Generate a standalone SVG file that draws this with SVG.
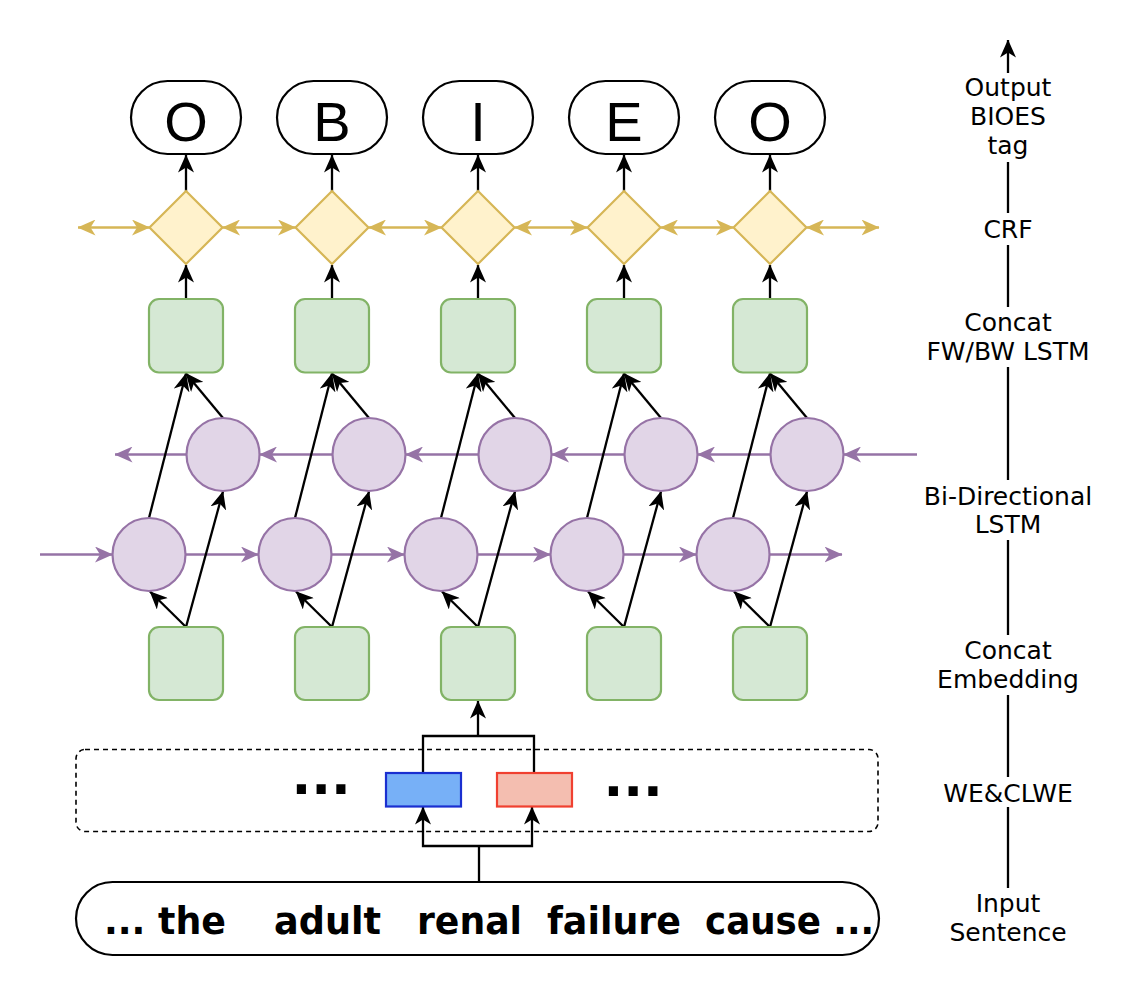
<svg xmlns="http://www.w3.org/2000/svg" width="1132" height="1004" viewBox="0 0 1132 1004">
<defs>
<style>
.blk{fill:none;stroke:#000;stroke-width:2.3}
.pur{fill:none;stroke:#9673a6;stroke-width:2.3}
.yel{fill:none;stroke:#d6b656;stroke-width:2.3}
.pill{fill:#fff;stroke:#000;stroke-width:2.2}
.grn{fill:#d5e8d4;stroke:#82b366;stroke-width:2.2}
.circ{fill:#e1d5e7;stroke:#9673a6;stroke-width:2.2}
.dia{fill:#fff2cc;stroke:#d6b656;stroke-width:2.2}
.tag{font-family:"Liberation Sans",Arial,sans-serif;font-size:56px;text-anchor:middle;fill:#000}
.lbl{font-family:"DejaVu Sans",Verdana,sans-serif;font-size:25px;text-anchor:middle;fill:#000}
.sent{font-family:"DejaVu Sans",Verdana,sans-serif;font-size:37px;font-weight:bold;fill:#000}
.dots{font-family:"DejaVu Sans",Verdana,sans-serif;font-size:52px;font-weight:bold;fill:#000}
</style>
<marker id="ab" viewBox="0 0 18 16" refX="17.5" refY="8" markerWidth="18" markerHeight="16" markerUnits="userSpaceOnUse" orient="auto-start-reverse"><path d="M0,0 L18,8 L0,16 L5,8 Z" fill="#000"/></marker>
<marker id="ap" viewBox="0 0 18 16" refX="17.5" refY="8" markerWidth="18" markerHeight="16" markerUnits="userSpaceOnUse" orient="auto-start-reverse"><path d="M0,0 L18,8 L0,16 L5,8 Z" fill="#9673a6"/></marker>
<marker id="ay" viewBox="0 0 18 16" refX="17.5" refY="8" markerWidth="18" markerHeight="16" markerUnits="userSpaceOnUse" orient="auto-start-reverse"><path d="M0,0 L18,8 L0,16 L5,8 Z" fill="#d6b656"/></marker>
</defs>
<rect width="1132" height="1004" fill="#fff"/>

<g id="connectors">
<!-- CRF chain -->
<path class="yel" d="M78,227.5 H149.5" marker-start="url(#ay)" marker-end="url(#ay)"/>
<path class="yel" d="M222.5,227.5 H295.5" marker-start="url(#ay)" marker-end="url(#ay)"/>
<path class="yel" d="M368.5,227.5 H441.5" marker-start="url(#ay)" marker-end="url(#ay)"/>
<path class="yel" d="M514.5,227.5 H587.5" marker-start="url(#ay)" marker-end="url(#ay)"/>
<path class="yel" d="M660.5,227.5 H733.5" marker-start="url(#ay)" marker-end="url(#ay)"/>
<path class="yel" d="M806.5,227.5 H879" marker-start="url(#ay)" marker-end="url(#ay)"/>
<!-- forward LSTM -->
<path class="pur" d="M40,554.5 H112.5" marker-end="url(#ap)"/>
<path class="pur" d="M185.5,554.5 H258.5" marker-end="url(#ap)"/>
<path class="pur" d="M331.5,554.5 H404.5" marker-end="url(#ap)"/>
<path class="pur" d="M477.5,554.5 H550.5" marker-end="url(#ap)"/>
<path class="pur" d="M623.5,554.5 H696.5" marker-end="url(#ap)"/>
<path class="pur" d="M769.5,554.5 H842" marker-end="url(#ap)"/>
<!-- backward LSTM -->
<path class="pur" d="M917,454.5 H843.5" marker-end="url(#ap)"/>
<path class="pur" d="M770.5,454.5 H697.5" marker-end="url(#ap)"/>
<path class="pur" d="M624.5,454.5 H551.5" marker-end="url(#ap)"/>
<path class="pur" d="M478.5,454.5 H405.5" marker-end="url(#ap)"/>
<path class="pur" d="M332.5,454.5 H259.5" marker-end="url(#ap)"/>
<path class="pur" d="M186.5,454.5 H115" marker-end="url(#ap)"/>
<!-- column 1 -->
<path class="blk" d="M186,191 V155" marker-end="url(#ab)"/>
<path class="blk" d="M186,299 V265" marker-end="url(#ab)"/>
<path class="blk" d="M186,627 L150,591.5" marker-end="url(#ab)"/>
<path class="blk" d="M186,627 L223,491.5" marker-end="url(#ab)"/>
<path class="blk" d="M149,518 L186,373.5" marker-end="url(#ab)"/>
<path class="blk" d="M223,418 L186,373.5" marker-end="url(#ab)"/>
<!-- column 2 -->
<path class="blk" d="M332,191 V155" marker-end="url(#ab)"/>
<path class="blk" d="M332,299 V265" marker-end="url(#ab)"/>
<path class="blk" d="M332,627 L296,591.5" marker-end="url(#ab)"/>
<path class="blk" d="M332,627 L369,491.5" marker-end="url(#ab)"/>
<path class="blk" d="M295,518 L332,373.5" marker-end="url(#ab)"/>
<path class="blk" d="M369,418 L332,373.5" marker-end="url(#ab)"/>
<!-- column 3 -->
<path class="blk" d="M478,191 V155" marker-end="url(#ab)"/>
<path class="blk" d="M478,299 V265" marker-end="url(#ab)"/>
<path class="blk" d="M478,627 L442,591.5" marker-end="url(#ab)"/>
<path class="blk" d="M478,627 L515,491.5" marker-end="url(#ab)"/>
<path class="blk" d="M441,518 L478,373.5" marker-end="url(#ab)"/>
<path class="blk" d="M515,418 L478,373.5" marker-end="url(#ab)"/>
<!-- column 4 -->
<path class="blk" d="M624,191 V155" marker-end="url(#ab)"/>
<path class="blk" d="M624,299 V265" marker-end="url(#ab)"/>
<path class="blk" d="M624,627 L588,591.5" marker-end="url(#ab)"/>
<path class="blk" d="M624,627 L661,491.5" marker-end="url(#ab)"/>
<path class="blk" d="M587,518 L624,373.5" marker-end="url(#ab)"/>
<path class="blk" d="M661,418 L624,373.5" marker-end="url(#ab)"/>
<!-- column 5 -->
<path class="blk" d="M770,191 V155" marker-end="url(#ab)"/>
<path class="blk" d="M770,299 V265" marker-end="url(#ab)"/>
<path class="blk" d="M770,627 L734,591.5" marker-end="url(#ab)"/>
<path class="blk" d="M770,627 L807,491.5" marker-end="url(#ab)"/>
<path class="blk" d="M733,518 L770,373.5" marker-end="url(#ab)"/>
<path class="blk" d="M807,418 L770,373.5" marker-end="url(#ab)"/>
<!-- embedding merge -->
<path class="blk" d="M423,773 V736 H534 V773"/>
<path class="blk" d="M478,736 V701" marker-end="url(#ab)"/>
<path class="blk" d="M479,882 V846"/>
<path class="blk" d="M423,807 V846 H532 V807" marker-start="url(#ab)" marker-end="url(#ab)"/>
<!-- right legend axis -->
<path class="blk" d="M1008,73 V40" marker-end="url(#ab)"/>
<path class="blk" d="M1008,162 V213"/>
<path class="blk" d="M1008,245 V307"/>
<path class="blk" d="M1008,367 V480"/>
<path class="blk" d="M1008,540 V635"/>
<path class="blk" d="M1008,695 V777"/>
<path class="blk" d="M1008,807 V888"/>
</g>

<g id="out1"><rect class="pill" x="131" y="81" width="110" height="73" rx="36.5"/><text class="tag" x="186" y="141">O</text></g>
<g id="out2"><rect class="pill" x="277" y="81" width="110" height="73" rx="36.5"/><text class="tag" x="332" y="141">B</text></g>
<g id="out3"><rect class="pill" x="423" y="81" width="110" height="73" rx="36.5"/><text class="tag" x="478" y="141">I</text></g>
<g id="out4"><rect class="pill" x="569" y="81" width="110" height="73" rx="36.5"/><text class="tag" x="624" y="141">E</text></g>
<g id="out5"><rect class="pill" x="715" y="81" width="110" height="73" rx="36.5"/><text class="tag" x="770" y="141">O</text></g>

<g id="crf1"><path class="dia" d="M186,191 L222.5,227.5 L186,264 L149.5,227.5 Z"/></g>
<g id="crf2"><path class="dia" d="M332,191 L368.5,227.5 L332,264 L295.5,227.5 Z"/></g>
<g id="crf3"><path class="dia" d="M478,191 L514.5,227.5 L478,264 L441.5,227.5 Z"/></g>
<g id="crf4"><path class="dia" d="M624,191 L660.5,227.5 L624,264 L587.5,227.5 Z"/></g>
<g id="crf5"><path class="dia" d="M770,191 L806.5,227.5 L770,264 L733.5,227.5 Z"/></g>

<g id="concat1"><rect class="grn" x="149" y="299" width="74" height="73.5" rx="10"/></g>
<g id="concat2"><rect class="grn" x="295" y="299" width="74" height="73.5" rx="10"/></g>
<g id="concat3"><rect class="grn" x="441" y="299" width="74" height="73.5" rx="10"/></g>
<g id="concat4"><rect class="grn" x="587" y="299" width="74" height="73.5" rx="10"/></g>
<g id="concat5"><rect class="grn" x="733" y="299" width="74" height="73.5" rx="10"/></g>

<g id="bw1"><circle class="circ" cx="223" cy="454.5" r="36.5"/></g>
<g id="bw2"><circle class="circ" cx="369" cy="454.5" r="36.5"/></g>
<g id="bw3"><circle class="circ" cx="515" cy="454.5" r="36.5"/></g>
<g id="bw4"><circle class="circ" cx="661" cy="454.5" r="36.5"/></g>
<g id="bw5"><circle class="circ" cx="807" cy="454.5" r="36.5"/></g>

<g id="fw1"><circle class="circ" cx="149" cy="554.5" r="36.5"/></g>
<g id="fw2"><circle class="circ" cx="295" cy="554.5" r="36.5"/></g>
<g id="fw3"><circle class="circ" cx="441" cy="554.5" r="36.5"/></g>
<g id="fw4"><circle class="circ" cx="587" cy="554.5" r="36.5"/></g>
<g id="fw5"><circle class="circ" cx="733" cy="554.5" r="36.5"/></g>

<g id="emb1"><rect class="grn" x="149" y="627" width="74" height="73" rx="10"/></g>
<g id="emb2"><rect class="grn" x="295" y="627" width="74" height="73" rx="10"/></g>
<g id="emb3"><rect class="grn" x="441" y="627" width="74" height="73" rx="10"/></g>
<g id="emb4"><rect class="grn" x="587" y="627" width="74" height="73" rx="10"/></g>
<g id="emb5"><rect class="grn" x="733" y="627" width="74" height="73" rx="10"/></g>

<g id="we-clwe">
<rect x="76" y="749.5" width="802" height="82" rx="9" fill="none" stroke="#000" stroke-width="1.6" stroke-dasharray="5 4"/>
<text class="dots" x="291.5" y="794">...</text>
<text class="dots" x="603.5" y="796">...</text>
</g>
<g id="we"><rect x="386" y="773" width="75" height="33.5" fill="#77b0f7" stroke="#1a2fd0" stroke-width="2.2"/></g>
<g id="clwe"><rect x="497" y="773" width="75" height="33.5" fill="#f4beb0" stroke="#f04030" stroke-width="2.2"/></g>

<g id="sentence">
<rect class="pill" x="76" y="882" width="803" height="73" rx="36.5"/>
<text class="sent" x="104" y="934" textLength="122" lengthAdjust="spacingAndGlyphs">... the</text>
<text class="sent" x="274" y="934" textLength="107" lengthAdjust="spacingAndGlyphs">adult</text>
<text class="sent" x="417" y="934" textLength="105" lengthAdjust="spacingAndGlyphs">renal</text>
<text class="sent" x="547" y="934" textLength="134" lengthAdjust="spacingAndGlyphs">failure</text>
<text class="sent" x="705" y="934" textLength="169" lengthAdjust="spacingAndGlyphs">cause ...</text>
</g>

<g id="legend">
<text class="lbl" x="1008" y="96">Output</text>
<text class="lbl" x="1008" y="125">BIOES</text>
<text class="lbl" x="1008" y="154">tag</text>
<text class="lbl" x="1008" y="238">CRF</text>
<text class="lbl" x="1008" y="331">Concat</text>
<text class="lbl" x="1008" y="360">FW/BW LSTM</text>
<text class="lbl" x="1008" y="505">Bi-Directional</text>
<text class="lbl" x="1008" y="533">LSTM</text>
<text class="lbl" x="1008" y="659">Concat</text>
<text class="lbl" x="1008" y="688">Embedding</text>
<text class="lbl" x="1008" y="802">WE&amp;CLWE</text>
<text class="lbl" x="1008" y="912">Input</text>
<text class="lbl" x="1008" y="941">Sentence</text>
</g>
</svg>
